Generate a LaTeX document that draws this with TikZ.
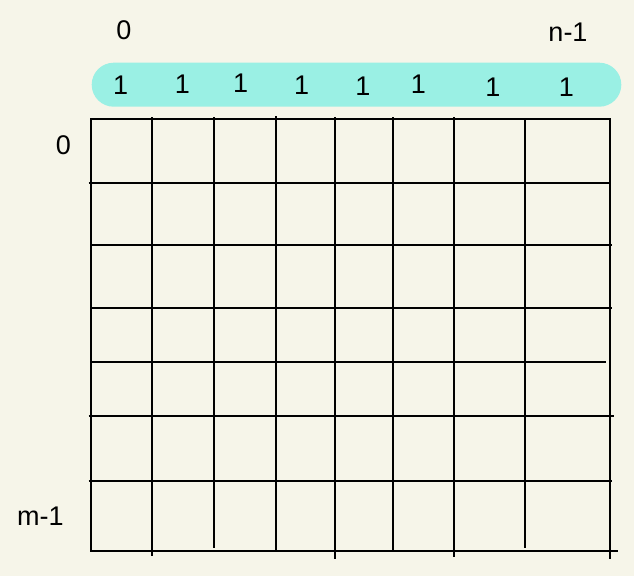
\documentclass[tikz,border=0pt]{standalone}
\usepackage{fontspec}
\setmainfont{Liberation Sans}
\usepackage{tikz}

\definecolor{paper}{RGB}{246,245,233}
\definecolor{barcyan}{RGB}{154,240,228}

\begin{document}
\begin{tikzpicture}[x=1pt, y=-1pt,
  lbl/.style = {font=\fontsize{27}{29}\selectfont, inner sep=0pt},
  gridline/.style = {line width=1.9pt, black}]
%% background
\fill[paper] (0,0) rectangle (634,576);
\useasboundingbox (0,0) rectangle (634,576);

%% top bar
\fill[barcyan, rounded corners=22pt] (91.7,62.7) rectangle (621.3,106.7);

%% bar entries
\node[lbl] (c0) at (120.7, 85) {1};
\node[lbl] (c1) at (182.3, 84) {1};
\node[lbl] (c2) at (240.7, 83) {1};
\node[lbl] (c3) at (301.7, 85) {1};
\node[lbl] (c4) at (363, 86) {1};
\node[lbl] (c5) at (418.3, 84) {1};
\node[lbl] (c6) at (493, 87) {1};
\node[lbl] (c7) at (566.3, 87) {1};

%% index labels
\node[lbl] (col0) at (124, 30) {0};
\node[lbl] (coln) at (568, 32) {n-1};
\node[lbl] (row0) at (63.5, 145) {0};
\node[lbl] (rowm) at (40.3, 516) {m-1};

%% columns
\draw[gridline] (90.7, 119) -- (90.7, 551.3);
\draw[gridline] (152, 117.3) -- (152, 556);
\draw[gridline] (214.3, 117.3) -- (214.3, 548);
\draw[gridline] (275.7, 116) -- (275.7, 551.3);
\draw[gridline] (335.3, 117.3) -- (335.3, 558.7);
\draw[gridline] (392.7, 117.3) -- (392.7, 551.3);
\draw[gridline] (454, 117) -- (454, 556.7);
\draw[gridline] (524.7, 119) -- (524.7, 548);
\draw[gridline] (610, 119) -- (610, 559);

%% rows
\draw[gridline] (90, 119.3) -- (610.5, 119.3);
\draw[gridline] (88.5, 182.7) -- (610.5, 182.7);
\draw[gridline] (90.7, 245) -- (612.3, 245);
\draw[gridline] (90.7, 307.7) -- (611.7, 307.7);
\draw[gridline] (90.7, 362.3) -- (605.7, 362.3);
\draw[gridline] (88.5, 416) -- (614, 416);
\draw[gridline] (88.5, 480.7) -- (612.3, 480.7);
\draw[gridline] (90, 551.3) -- (618, 551.3);

\end{tikzpicture}
\end{document}
